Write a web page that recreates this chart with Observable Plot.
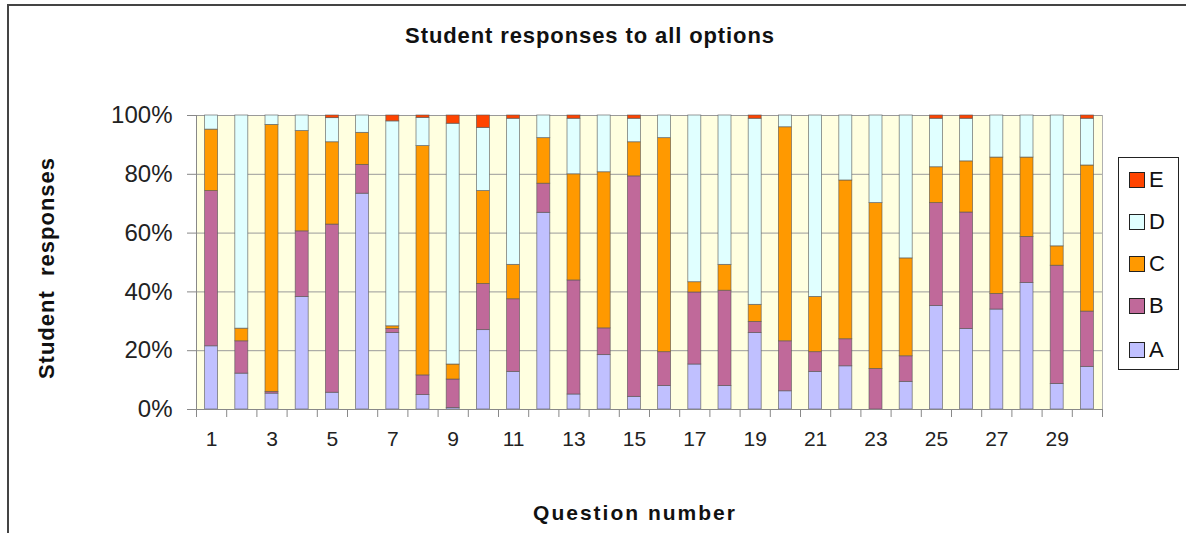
<!DOCTYPE html>
<html>
<head>
<meta charset="utf-8">
<script src="https://cdn.jsdelivr.net/npm/d3@7"></script>
<script src="https://cdn.jsdelivr.net/npm/@observablehq/plot@0.6"></script>
<style>
  html, body { margin: 0; padding: 0; background: #fff; }
  #wrap { position: relative; width: 1186px; height: 533px; overflow: hidden; font-family: "Liberation Sans", Arial, sans-serif; }
  #frameTop { position: absolute; left: 7px; top: 4px; width: 1179px; height: 2px; background: #444; }
  #frameLeft { position: absolute; left: 7px; top: 4px; width: 2px; height: 529px; background: #444; }
  #title { position: absolute; top: 23px; left: 0; width: 1180px; text-align: center; font-weight: bold; font-size: 22px; color: #111; letter-spacing: 0.9px; }
  #ylabel { position: absolute; left: 47px; top: 268px; transform: translate(-50%, -50%) rotate(-90deg); white-space: nowrap; font-weight: bold; font-size: 22px; color: #111; letter-spacing: 1px; }
  #xlabel { position: absolute; left: 0; width: 1270px; top: 501px; text-align: center; font-weight: bold; font-size: 21px; color: #111; letter-spacing: 2px; }
  #legend { position: absolute; left: 1118px; top: 157px; width: 61px; height: 213px; border: 1.5px solid #222; box-sizing: border-box; background: #fff; }
  .item { position: absolute; left: 10px; height: 22px; display: flex; align-items: center; font-size: 22px; color: #111; }
  .sw { width: 16px; height: 16px; border: 1px solid #222; margin-right: 4px; box-sizing: border-box; }
  #chart { position: absolute; left: 0; top: 0; }
</style>
</head>
<body>
<div id="wrap">
  <div id="chart"></div>
  <div id="frameTop"></div>
  <div id="frameLeft"></div>
  <div id="title">Student responses to all options</div>
  <div id="ylabel">Student&nbsp; responses</div>
  <div id="xlabel">Question number</div>
  <div id="legend"></div>
</div>
<script>
const questions = [1, 2, 3, 4, 5, 6, 7, 8, 9, 10, 11, 12, 13, 14, 15, 16, 17, 18, 19, 20, 21, 22, 23, 24, 25, 26, 27, 28, 29, 30];
const options = ["A", "B", "C", "D", "E"];
const optionA = [21.5, 12.2, 5.4, 38.3, 5.7, 73.4, 26, 4.9, 0.5, 27, 12.8, 66.9, 5.1, 18.5, 4.3, 8, 15.3, 8, 26, 6.2, 12.8, 14.7, 0, 9.4, 35.2, 27.4, 34, 43, 8.7, 14.5];
const optionB = [52.8, 11, 0.6, 22.3, 57.2, 9.8, 1.4, 6.7, 9.7, 15.7, 24.7, 9.9, 38.8, 9.1, 75, 11.5, 24.5, 32.4, 3.8, 17, 6.7, 9.2, 13.8, 8.7, 35, 39.6, 5.3, 15.7, 40.2, 18.8];
const optionC = [20.9, 4.3, 90.8, 34.1, 28, 10.9, 0.9, 78, 5.1, 31.6, 11.7, 15.5, 36.1, 53.1, 11.6, 72.8, 3.5, 8.8, 5.8, 72.8, 18.8, 54, 56.4, 33.3, 12.2, 17.4, 46.4, 27, 6.6, 49.7];
const optionD = [4.8, 72.5, 3.2, 5.3, 8.2, 5.9, 69.7, 9.6, 81.9, 21.5, 49.7, 7.7, 18.9, 19.3, 8, 7.7, 56.7, 50.8, 63.3, 4, 61.7, 22.1, 29.8, 48.6, 16.5, 14.5, 14.3, 14.3, 44.5, 15.9];
const optionE = [0, 0, 0, 0, 0.9, 0, 2, 0.8, 2.8, 4.2, 1.1, 0, 1.1, 0, 1.1, 0, 0, 0, 1.1, 0, 0, 0, 0, 0, 1.1, 1.1, 0, 0, 0, 1.1];
const xTickLabels = [1, 3, 5, 7, 9, 11, 13, 15, 17, 19, 21, 23, 25, 27, 29];
const yTicks = [0, 0.2, 0.4, 0.6, 0.8, 1];
const colors = ["#c0c0ff", "#c0699a", "#ff9900", "#e0ffff", "#ff4400"];

const series = [optionA, optionB, optionC, optionD, optionE];
const table = [];
questions.forEach((q, i) => {
  options.forEach((o, j) => {
    table.push({question: q, option: o, value: series[j][i]});
  });
});

const halfBar = 0.215;
const boundaries = questions.map(q => q - 0.5).concat([questions[questions.length - 1] + 0.5]);

const chart = Plot.plot({
  width: 1186,
  height: 533,
  marginTop: 115,
  marginBottom: 124,
  marginLeft: 196,
  marginRight: 84,
  style: {background: "transparent", fontFamily: "Liberation Sans, Arial, sans-serif", overflow: "visible"},
  x: {domain: [0.5, 30.5], axis: null},
  y: {domain: [0, 1], axis: null},
  color: {domain: options, range: colors},
  marks: [
    Plot.frame({fill: "#ffffe0", stroke: "#b0b0b0"}),
    Plot.gridY(yTicks, {stroke: "#9a9a9a", strokeOpacity: 1, strokeWidth: 1}),
    Plot.rectY(table.filter(d => d.value > 0), Plot.stackY({
      x1: d => d.question - halfBar,
      x2: d => d.question + halfBar,
      y: "value",
      fill: "option",
      offset: "normalize",
      stroke: "#555",
      strokeWidth: 0.8,
      strokeOpacity: 0.75
    })),
    Plot.axisY(yTicks, {
      tickSize: 9, tickPadding: 15, fontSize: 24, stroke: "#888",
      tickFormat: d => Math.round(d * 100) + "%", fill: "#222", label: null
    }),
    Plot.axisX(boundaries, {tickSize: 8, tickFormat: () => "", stroke: "#888", label: null}),
    Plot.axisX(xTickLabels, {tickSize: 0, tickPadding: 22, fontSize: 21, fill: "#222", label: null}),
    Plot.ruleY([0], {stroke: "#888"}),
    Plot.ruleX([0.5], {stroke: "#888"})
  ]
});
document.getElementById("chart").appendChild(chart);

const legend = document.getElementById("legend");
const order = ["E", "D", "C", "B", "A"];
const centers = [22, 64, 106, 148, 192];
order.forEach((o, k) => {
  const item = document.createElement("div");
  item.className = "item";
  item.style.top = (centers[k] - 11) + "px";
  const sw = document.createElement("div");
  sw.className = "sw";
  sw.style.background = colors[options.indexOf(o)];
  const label = document.createElement("span");
  label.textContent = o;
  item.appendChild(sw);
  item.appendChild(label);
  legend.appendChild(item);
});
</script>
</body>
</html>
